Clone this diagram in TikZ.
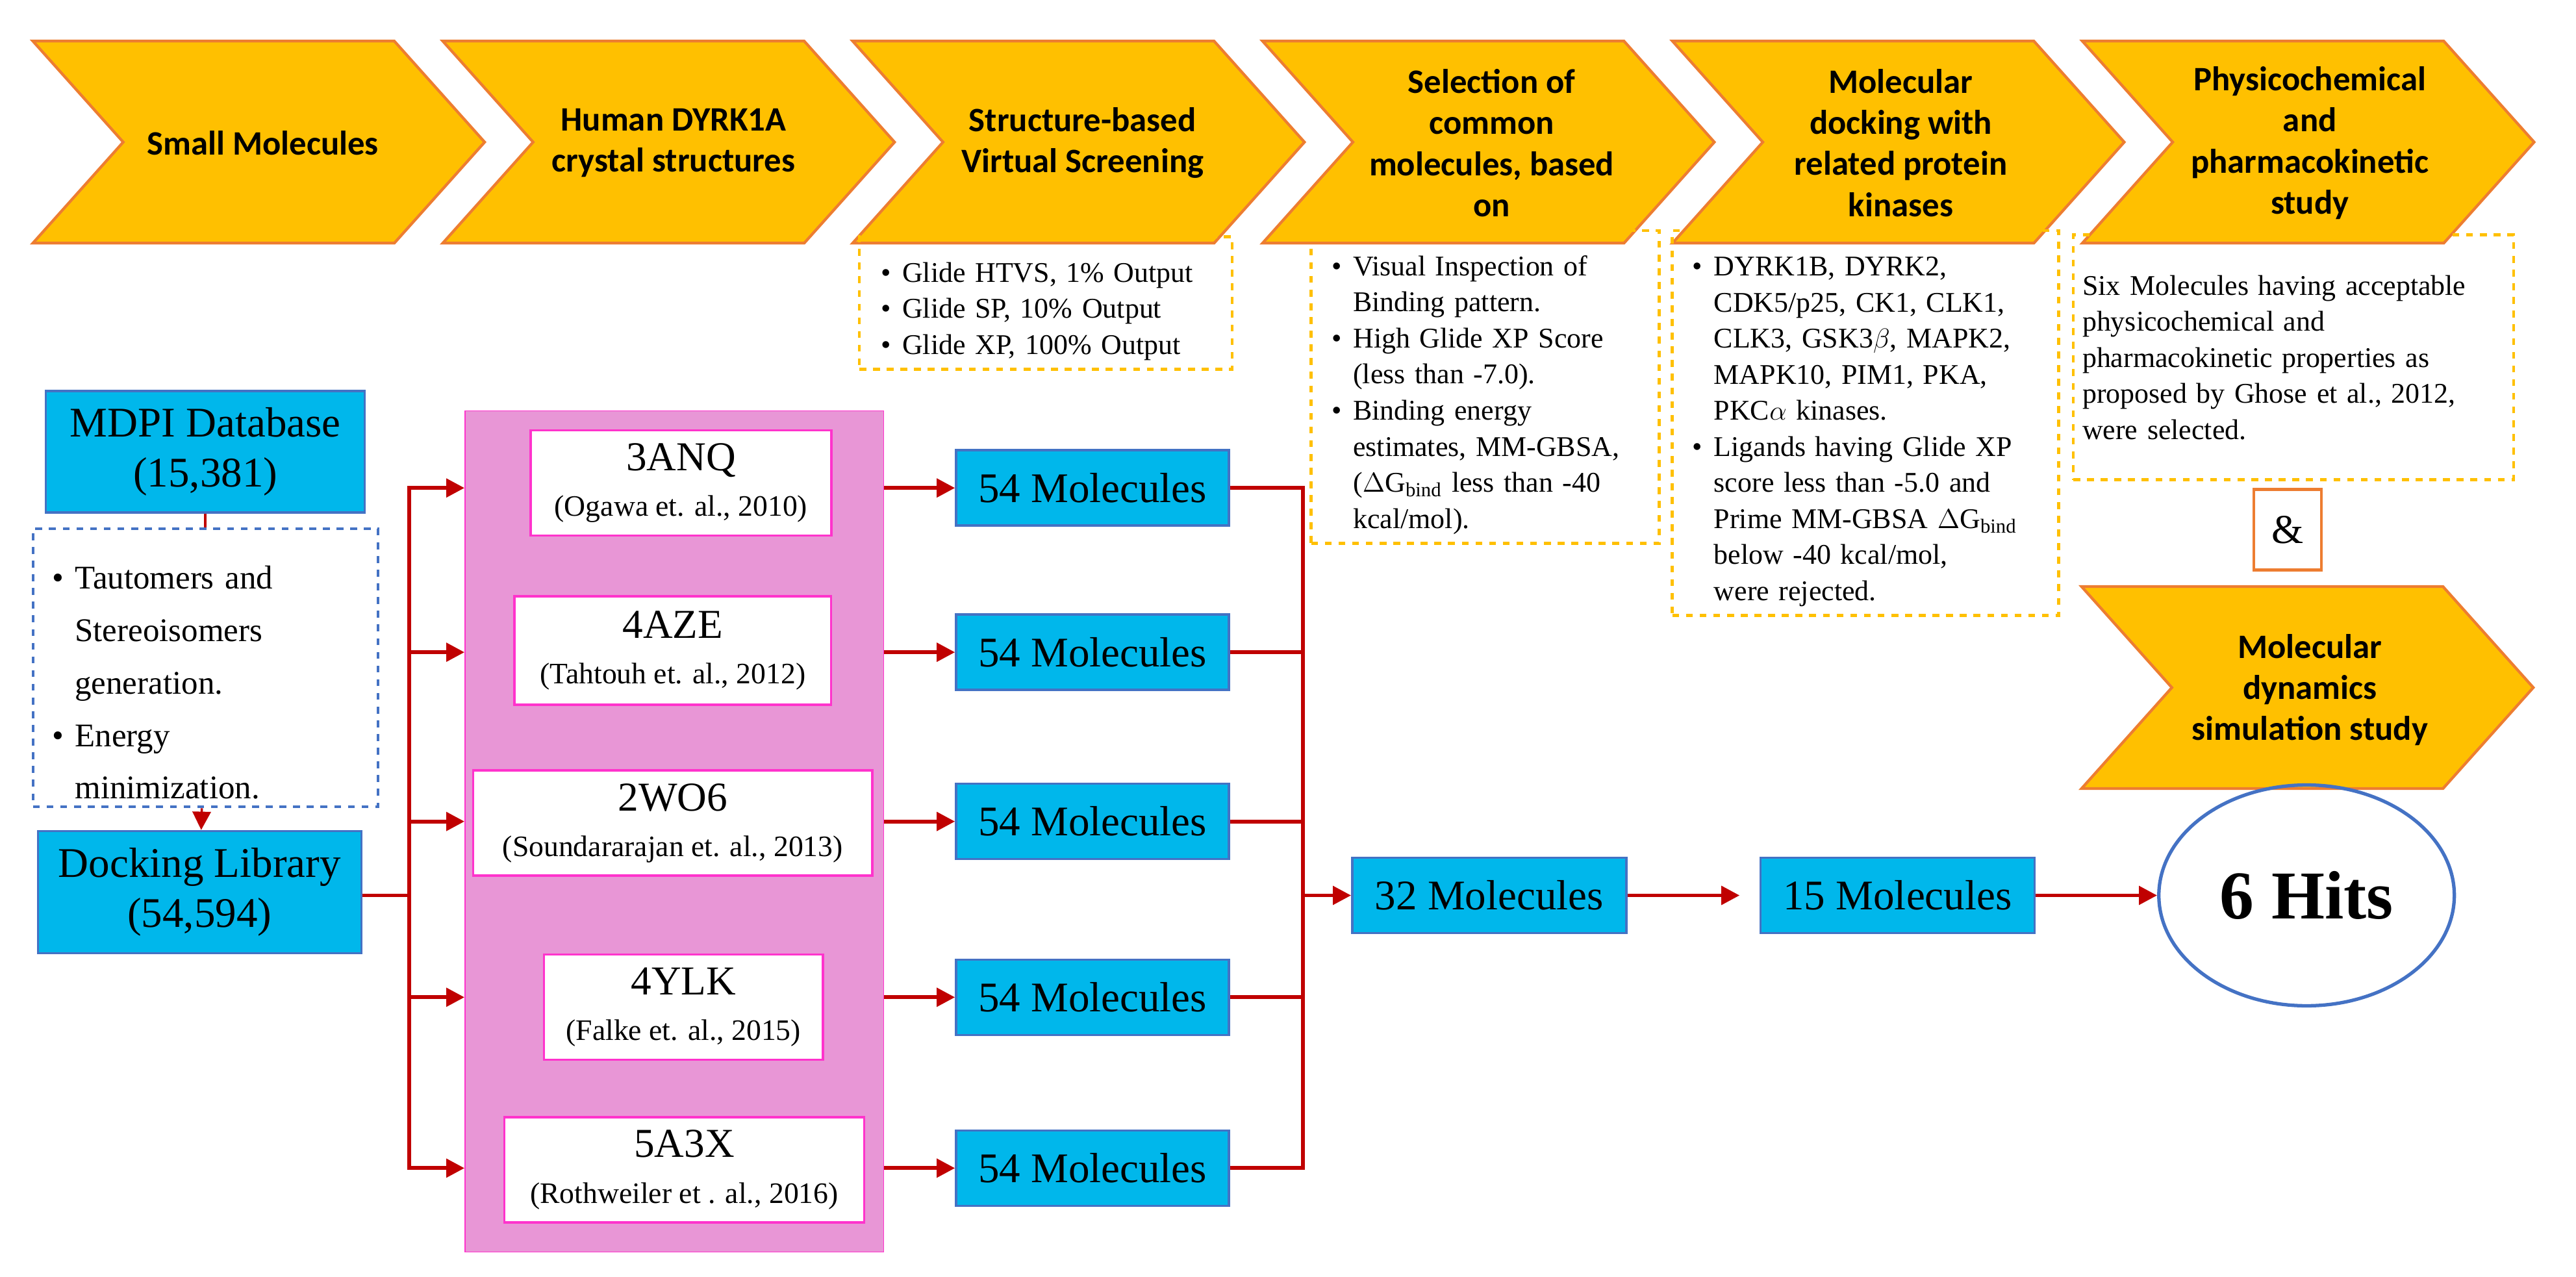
\documentclass[tikz,border=0pt]{standalone}
\usepackage{fontspec}
\setmainfont{Liberation Serif}
\newfontfamily\titlefont{Carlito}
\usepackage{enumitem}
\usetikzlibrary{arrows.meta,shapes.geometric,calc}
\definecolor{chevfill}{RGB}{255,192,0}
\definecolor{chevdraw}{RGB}{237,125,49}
\definecolor{boxcyan}{RGB}{0,183,235}
\definecolor{boxblue}{RGB}{68,114,196}
\definecolor{pinkfill}{RGB}{232,150,214}
\definecolor{pinkdraw}{RGB}{255,51,204}
\definecolor{linered}{RGB}{192,0,0}
\newcommand{\chev}[2]{(#1,#2) -- ++(220,0) -- ++(55,61.5) -- ++(-55,61.5) -- ++(-220,0) -- ++(55,-61.5) -- cycle}
\begin{document}
\begin{tikzpicture}[x=0.0253cm, y=-0.0253cm,
        chevron/.style={fill=chevfill, draw=chevdraw, line width=1.2pt},
        title/.style={align=center, font=\titlefont\bfseries\fontsize{15}{18}\selectfont},
        note/.style={draw=chevfill, dashed, line width=1.3pt, align=left, inner sep=4pt, font=\fontsize{12.5}{15.8}\selectfont},
        cyanbox/.style={fill=boxcyan, draw=boxblue, line width=1pt, align=center, font=\fontsize{18.5}{22}\selectfont},
        pdbbox/.style={fill=white, draw=pinkdraw, line width=1pt, align=center, font=\fontsize{18}{20}\selectfont},
        line/.style={draw=linered, line width=1.7pt},
        arr/.style={line, -{Triangle[length=8pt,width=8pt]}}
    ]
        \useasboundingbox (0,0) rectangle (1568,777);

        % chevrons
        \foreach \i in {0,...,5}
            \path[chevron] \chev{20+249.5*\i}{25};
        \path[chevron] \chev{1267}{357};
        \node[title] (t1) at (160,87) {Small Molecules};
        \node[title] (t2) at (410,87) {Human DYRK1A\\crystal structures};
        \node[title] (t3) at (659,87) {Structure-based\\Virtual Screening};
        \node[title] (t4) at (908,87) {Selection of\\common\\molecules, based\\on};
        \node[title] (t5) at (1157,87) {Molecular\\docking with\\related protein\\kinases};
        \node[title] (t6) at (1406,87) {Physicochemical\\and\\pharmacokinetic\\study};
        \node[title] (t7) at (1406,420) {Molecular\\dynamics\\simulation study};

        % notes
        \node[note, minimum width=5.74cm, minimum height=1.95cm, text width=5.4cm] (n1) at (636.5,184.5) {%
            \begin{itemize}[nosep, leftmargin=14pt]
            \item Glide HTVS, 1\% Output
            \item Glide SP, 10\% Output
            \item Glide XP, 100\% Output
            \end{itemize}};
        \node[note, minimum width=5.36cm, minimum height=4.68cm, text width=5.05cm] (n2) at (904,235.5) {%
            \begin{itemize}[nosep, leftmargin=14pt]
            \item Visual Inspection of\newline Binding pattern.
            \item High Glide XP Score\newline (less than -7.0).
            \item Binding energy\newline estimates, MM-GBSA,\newline ($\Delta$G\textsubscript{bind} less than -40\newline kcal/mol).
            \end{itemize}};
        \node[note, minimum width=5.95cm, minimum height=5.79cm, text width=5.65cm] (n3) at (1135.5,257.5) {%
            \begin{itemize}[nosep, leftmargin=14pt]
            \item DYRK1B, DYRK2,\newline CDK5/p25, CK1, CLK1,\newline CLK3, GSK3$\beta$, MAPK2,\newline MAPK10, PIM1, PKA,\newline PKC$\alpha$ kinases.
            \item Ligands having Glide XP\newline score less than -5.0 and\newline Prime MM-GBSA $\Delta$G\textsubscript{bind}\newline below -40 kcal/mol,\newline were rejected.
            \end{itemize}};
        \node[note, minimum width=6.78cm, minimum height=3.77cm, text width=6.5cm] (n4) at (1396,217.5) {%
            Six Molecules having acceptable\\physicochemical and\\pharmacokinetic properties as\\proposed by Ghose et al., 2012,\\were selected.};
        \node[draw=chevdraw, line width=1.3pt, minimum width=1.04cm, minimum height=1.24cm, font=\fontsize{18}{20}\selectfont] (amp) at (1392.5,322.5) {\&};

        % left column
        \node[cyanbox, minimum width=4.91cm, minimum height=1.87cm] (mdpi) at (125,275) {MDPI Database\\(15,381)};
        \node[draw=boxblue, dashed, line width=1.2pt, minimum width=5.31cm, minimum height=3.62cm, text width=5cm, align=left, font=\fontsize{14.5}{23}\selectfont] (prep) at (125,406.5) {%
            \begin{itemize}[nosep, leftmargin=14pt]
            \item Tautomers and\newline Stereoisomers\newline generation.
            \item Energy\newline minimization.
            \end{itemize}};
        \node[cyanbox, minimum width=4.98cm, minimum height=1.88cm] (dock) at (121.5,543) {Docking Library\\(54,594)};

        % crystal structures
        \node[fill=pinkfill, draw=pinkdraw, minimum width=6.45cm, minimum height=12.95cm] (pink) at (410.5,506) {};
        \node[pdbbox, minimum width=4.63cm, minimum height=1.62cm] (s1) at (414.5,294) {3ANQ\\{\fontsize{13}{15}\selectfont (Ogawa et. al., 2010)}};
        \node[pdbbox, minimum width=4.88cm, minimum height=1.67cm] (s2) at (409.5,396) {4AZE\\{\fontsize{13}{15}\selectfont (Tahtouh et. al., 2012)}};
        \node[pdbbox, minimum width=6.15cm, minimum height=1.62cm] (s3) at (409.5,501) {2WO6\\{\fontsize{13}{15}\selectfont (Soundararajan et. al., 2013)}};
        \node[pdbbox, minimum width=4.30cm, minimum height=1.62cm] (s4) at (416,613) {4YLK\\{\fontsize{13}{15}\selectfont (Falke et. al., 2015)}};
        \node[pdbbox, minimum width=5.54cm, minimum height=1.62cm] (s5) at (416.5,712) {5A3X\\{\fontsize{13}{15}\selectfont (Rothweiler et . al., 2016)}};

        % molecules
        \foreach \k/\y in {1/297,2/397,3/500,4/607,5/711}
            \node[cyanbox, minimum width=4.2cm, minimum height=1.16cm] (m\k) at (665,\y) {54 Molecules};
        \node[cyanbox, minimum width=4.22cm, minimum height=1.16cm] (m32) at (906.5,545) {32 Molecules};
        \node[cyanbox, minimum width=4.22cm, minimum height=1.16cm] (m15) at (1155,545) {15 Molecules};
        \node[ellipse, draw=boxblue, line width=1.5pt, inner sep=0pt, minimum width=4.55cm, minimum height=3.4cm, font=\bfseries\fontsize{30}{34}\selectfont] (hits) at (1404,545) {6 Hits};

        % connectors
        \coordinate (lbus) at (249,545);
        \coordinate (rbus) at (793,545);
        \draw[line, line width=1pt] (mdpi) -- (prep);
        \draw[arr, line width=1pt] (prep) -- (dock);
        \draw[line] (dock.east |- lbus) -- (lbus);
        \foreach \k/\y in {1/297,2/397,3/500,4/607,5/711} {
            \draw[arr] (lbus) |- (pink.west |- m\k.west);
            \draw[arr] (pink.east |- m\k.west) -- (m\k.west);
            \draw[line] (m\k.east) -| (rbus);
        }
        \draw[arr] (rbus) -- (m32);
        \draw[arr] (m32) -- ($(m15.west)+(-12,0)$) coordinate (a15);
        \draw[arr] (m15) -- (hits);
    \end{tikzpicture}
\end{document}
